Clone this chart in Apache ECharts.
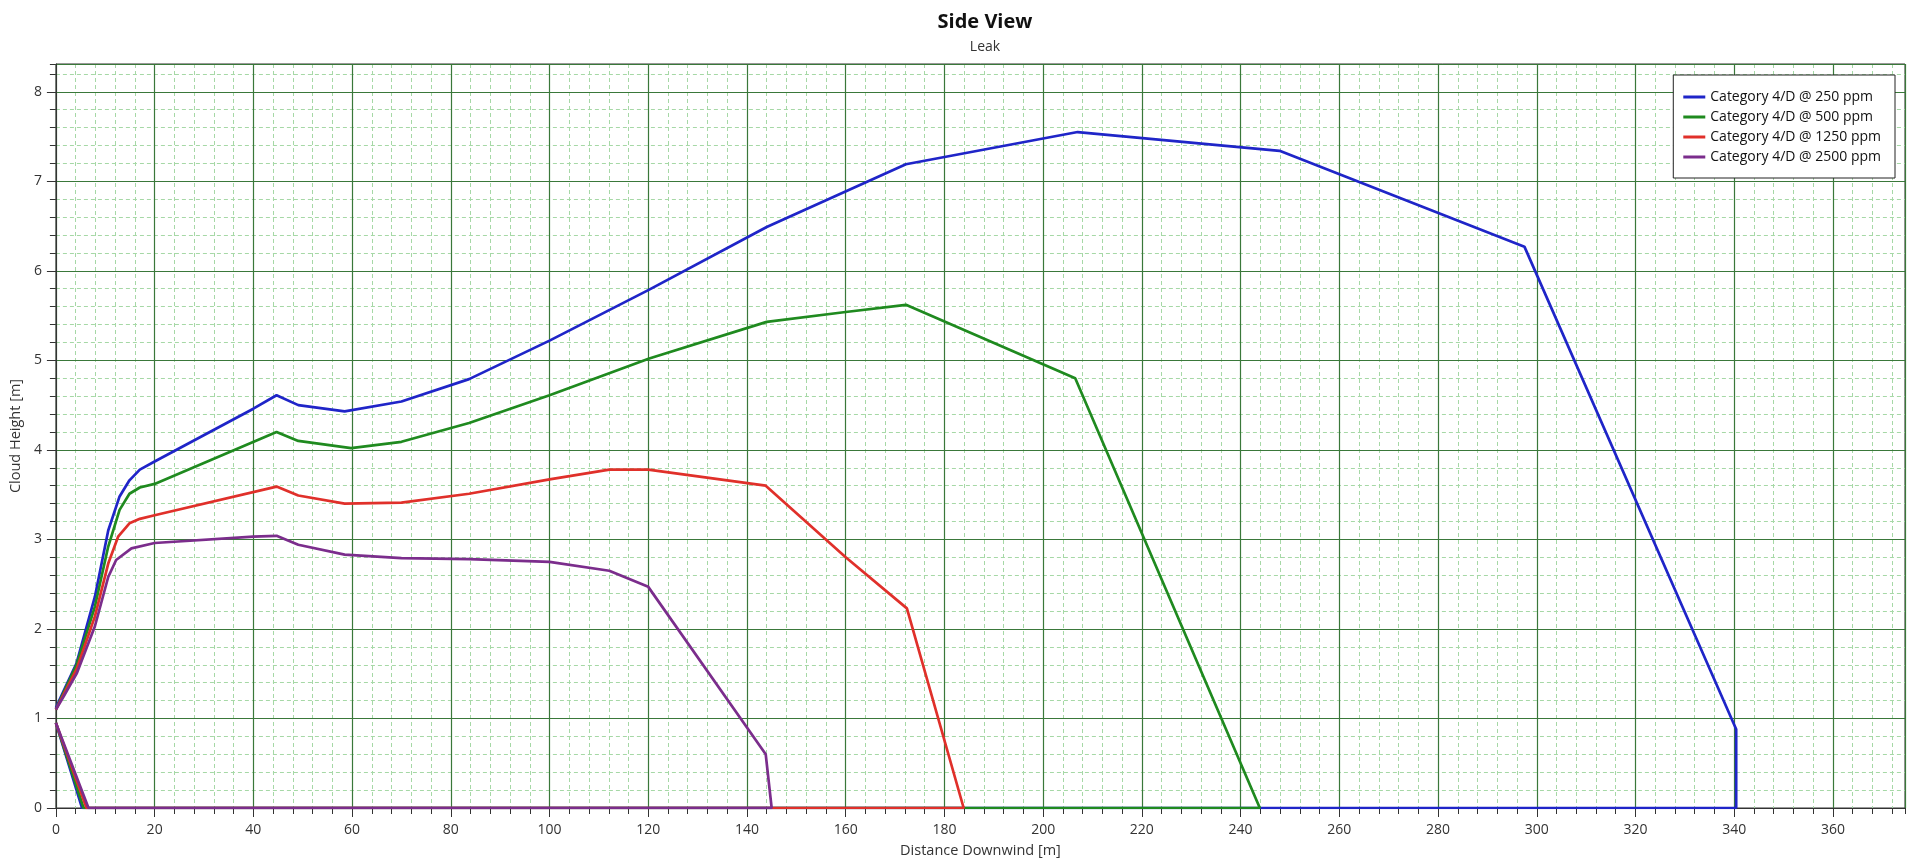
<!DOCTYPE html>
<html>
<head>
<meta charset="utf-8">
<script src="https://cdn.jsdelivr.net/npm/echarts@6/dist/echarts.min.js"></script>
<style>
html,body{margin:0;padding:0;background:#fff;}
#chart{width:1912px;height:865px;}
</style>
</head>
<body>
<div id="chart"></div>
<script>
// ---- data (x = distance downwind [m], y = cloud height [m]) ----
const seriesNames = [
  'Category 4/D @ 250 ppm',
  'Category 4/D @ 500 ppm',
  'Category 4/D @ 1250 ppm',
  'Category 4/D @ 2500 ppm'
];
const blue250 = [
  [0,1.12],[1.5,1.3],[4.2,1.62],[7.9,2.36],[10.6,3.1],[12.9,3.48],[14.9,3.66],[17,3.78],[20,3.87],
  [40,4.46],[44.7,4.61],[49.1,4.50],[58.5,4.43],[70,4.54],[83.7,4.79],[100,5.22],[120.2,5.79],
  [144,6.49],[172.2,7.19],[207,7.55],[247.9,7.34],[297.5,6.27],[340.4,0.88],[340.4,0],[5.3,0],[0,0.95]
];
const green500 = [
  [0,1.1],[1.5,1.28],[4.2,1.6],[7.9,2.25],[10.6,2.92],[12.9,3.33],[14.9,3.51],[17,3.58],[20,3.62],
  [44.7,4.20],[49.1,4.10],[59.8,4.02],[70,4.09],[83.7,4.30],[100,4.61],[120.2,5.02],[144,5.43],
  [160,5.54],[172.2,5.62],[206.5,4.80],[243.9,0],[5.6,0],[0,0.95]
];
const red1250 = [
  [0,1.1],[1.5,1.26],[4.2,1.55],[7.9,2.14],[10.6,2.73],[12.6,3.03],[14.9,3.18],[17,3.23],[20,3.27],
  [44.7,3.59],[49.1,3.49],[58.5,3.40],[70,3.41],[83.7,3.51],[100,3.67],[112.1,3.78],[120,3.78],
  [143.8,3.60],[160,2.80],[172.4,2.23],[183.9,0],[6.2,0],[0,0.95]
];
const purple2500 = [
  [0,1.1],[1.5,1.24],[4.2,1.5],[7.9,2.03],[10.6,2.58],[12.2,2.77],[15.3,2.90],[20,2.96],
  [40,3.03],[44.7,3.04],[49.1,2.94],[58.5,2.83],[70,2.79],[83.7,2.78],[100,2.75],[112.1,2.65],
  [120,2.47],[143.8,0.60],[145,0],[6.6,0],[0,0.95]
];
const seriesData = [blue250, green500, red1250, purple2500];
const seriesColors = ['#1f25c8', '#1f8a1f', '#e0302a', '#7b2d8c'];

const xMin = 0, xMax = 374.6, xMajor = 20, xMinor = 4;
const yMin = 0, yMax = 8.31, yMajor = 1, yMinor = 0.2;

const FONT = '"Open Sans", "Noto Sans", sans-serif';
const chart = echarts.init(document.getElementById('chart'), null, {renderer: 'canvas'});

const majorColor = '#3a783a';
const minorColor = '#a6d8a6';

const option = {
  animation: false,
  backgroundColor: '#ffffff',
  title: {
    text: 'Side View',
    subtext: 'Leak',
    left: 980,
    textAlign: 'center',
    top: 7,
    itemGap: 8,
    textStyle: {fontFamily: FONT, fontSize: 20, fontWeight: 'bold', color: '#111'},
    subtextStyle: {fontFamily: FONT, fontSize: 14, color: '#333'}
  },
  legend: {
    data: seriesNames,
    orient: 'vertical',
    right: 17,
    top: 75,
    icon: 'rect',
    itemWidth: 22,
    itemHeight: 3,
    itemGap: 0,
    padding: [12, 14, 11, 10],
    backgroundColor: '#fff',
    borderColor: '#222',
    borderWidth: 1,
    borderRadius: 0,
    textStyle: {fontFamily: FONT, fontSize: 14, color: '#111', lineHeight: 20}
  },
  grid: {
    left: 55, right: 7, top: 64, bottom: 57,
    show: true, borderColor: '#333', borderWidth: 1, backgroundColor: 'transparent'
  },
  xAxis: [
    {
      type: 'value', min: xMin, max: xMax, interval: xMajor, position: 'bottom', z: 2,
      name: 'Distance Downwind [m]', nameLocation: 'middle', nameGap: 35,
      nameTextStyle: {fontFamily: FONT, fontSize: 14.5, color: '#333'},
      axisLine: {show: true, onZero: false, lineStyle: {color: '#333', width: 1}},
      axisTick: {show: true, inside: false, length: 9, lineStyle: {color: '#333'}},
      axisLabel: {fontFamily: FONT, fontSize: 14, color: '#333', margin: 15, showMaxLabel: false},
      splitLine: {show: true, lineStyle: {color: majorColor, width: 1.2, type: 'solid'}}
    },
    {
      type: 'value', min: xMin, max: xMax, interval: xMinor, position: 'bottom', z: 1,
      axisLine: {show: false, onZero: false},
      axisTick: {show: true, inside: false, length: 6, lineStyle: {color: '#333'}},
      axisLabel: {show: false},
      splitLine: {show: true, lineStyle: {color: minorColor, width: 1, type: [4, 3]}}
    }
  ],
  yAxis: [
    {
      type: 'value', min: yMin, max: yMax, interval: yMajor, position: 'left', z: 2,
      name: 'Cloud Height [m]', nameLocation: 'middle', nameGap: 27, nameRotate: 90,
      nameTextStyle: {fontFamily: FONT, fontSize: 14.5, color: '#333'},
      axisLine: {show: true, onZero: false, lineStyle: {color: '#333', width: 1}},
      axisTick: {show: true, inside: false, length: 9, lineStyle: {color: '#333'}},
      axisLabel: {fontFamily: FONT, fontSize: 14, color: '#333', margin: 14, showMaxLabel: false},
      splitLine: {show: true, lineStyle: {color: majorColor, width: 1.2, type: 'solid'}}
    },
    {
      type: 'value', min: yMin, max: yMax, interval: yMinor, position: 'left', z: 1,
      axisLine: {show: false, onZero: false},
      axisTick: {show: true, inside: false, length: 6, lineStyle: {color: '#333'}},
      axisLabel: {show: false},
      splitLine: {show: true, lineStyle: {color: minorColor, width: 1, type: [4, 3]}}
    }
  ],
  series: seriesNames.map((name, i) => ({
    name: name,
    type: 'line',
    xAxisIndex: 0,
    yAxisIndex: 0,
    data: seriesData[i],
    showSymbol: false,
    symbol: 'none',
    smooth: false,
    clip: true,
    z: 3 + i,
    color: seriesColors[i],
    lineStyle: {color: seriesColors[i], width: 2.7},
    emphasis: {disabled: true}
  }))
};
chart.setOption(option);
</script>
</body>
</html>
